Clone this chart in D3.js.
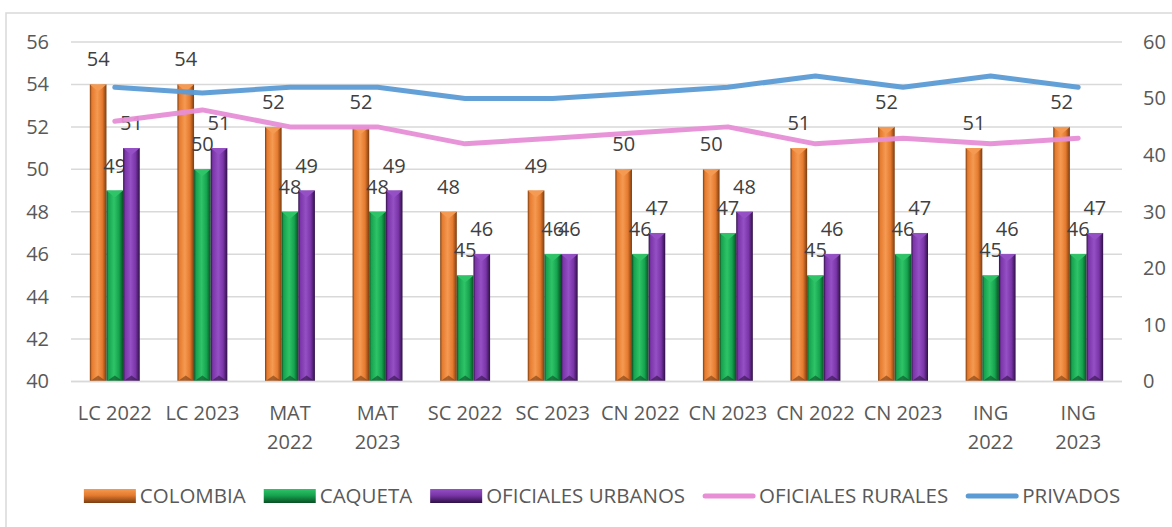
<!DOCTYPE html>
<html>
<head>
<meta charset="utf-8">
<script src="https://cdn.jsdelivr.net/npm/d3@7"></script>
<style>
  body { margin: 0; background: #fff; }
  text { font-family: "Open Sans", "Noto Sans", sans-serif; }
</style>
</head>
<body>
<svg id="chart"></svg>
<script>
// data
var categories = ["LC 2022", "LC 2023", "MAT 2022", "MAT 2023", "SC 2022", "SC 2023",
                  "CN 2022", "CN 2023", "CN 2022", "CN 2023", "ING 2022", "ING 2023"]
var colombia   = [54, 54, 52, 52, 48, 49, 50, 50, 51, 52, 51, 52]
var caqueta    = [49, 50, 48, 48, 45, 46, 46, 47, 45, 46, 45, 46]
var urbanos    = [51, 51, 49, 49, 46, 46, 47, 48, 46, 47, 46, 47]
var rurales    = [46, 48, 45, 45, 42, 43, 44, 45, 42, 43, 42, 43]
var privados   = [52, 51, 52, 52, 50, 50, 51, 52, 54, 52, 54, 52]
var leftTicks  = [40, 42, 44, 46, 48, 50, 52, 54, 56]
var rightTicks = [0, 10, 20, 30, 40, 50, 60]

var barSeries = [
    { name: "COLOMBIA", values: colombia, base: "#e57a2e", dark: "#7a3c10", light: "#f59a52" },
    { name: "CAQUETA", values: caqueta, base: "#16a34f", dark: "#0a4f24", light: "#2fc468" },
    { name: "OFICIALES URBANOS", values: urbanos, base: "#7a35a8", dark: "#2e1045", light: "#9450c4" }
]
var lineSeries = [
    { name: "OFICIALES RURALES", values: rurales, color: "#e78ed6" },
    { name: "PRIVADOS", values: privados, color: "#5b9bd5" }
]

var dimensions = {
    width: 1172,
    height: 527,
    margin: { top: 42, bottom: 146, right: 50, left: 71 }
}

var svg = d3.select("#chart")
    .attr("width", dimensions.width)
    .attr("height", dimensions.height)

// chart border
svg.append("rect")
    .attr("x", 6).attr("y", 13)
    .attr("width", dimensions.width + 10).attr("height", dimensions.height + 10)
    .attr("fill", "none")
    .attr("stroke", "#d9d9d9")
    .attr("stroke-width", 1.5)

var plotRight = dimensions.width - dimensions.margin.right
var plotBottom = 381.5

var xScale = d3.scaleBand()
    .domain(d3.range(categories.length))
    .range([dimensions.margin.left, plotRight])
    .paddingInner(0)

var yLeft = d3.scaleLinear().domain([40, 56]).range([plotBottom, dimensions.margin.top])
var yRight = d3.scaleLinear().domain([0, 60]).range([plotBottom, dimensions.margin.top])

var barWidth = xScale.bandwidth() * 0.19

// gridlines
svg.append("g")
    .selectAll("line")
    .data(leftTicks)
    .enter()
    .append("line")
    .attr("x1", dimensions.margin.left)
    .attr("x2", plotRight)
    .attr("y1", d => yLeft(d))
    .attr("y2", d => yLeft(d))
    .attr("stroke", "#d9d9d9")
    .attr("stroke-width", 1.5)

// left axis
var yAxisLeft = svg.append("g")
    .attr("transform", `translate(${dimensions.margin.left - 22},0)`)
    .call(d3.axisLeft(yLeft).tickValues(leftTicks).tickSize(0).tickPadding(0))
yAxisLeft.select(".domain").remove()
yAxisLeft.selectAll("text")
    .attr("font-size", 20)
    .attr("fill", "#595959")
    .style("font-family", "'Open Sans', sans-serif")

// right axis
var yAxisRight = svg.append("g")
    .attr("transform", `translate(${plotRight + 21},0)`)
    .call(d3.axisRight(yRight).tickValues(rightTicks).tickSize(0).tickPadding(0))
yAxisRight.select(".domain").remove()
yAxisRight.selectAll("text")
    .attr("font-size", 20)
    .attr("fill", "#595959")
    .style("font-family", "'Open Sans', sans-serif")

// gradients for the bevelled bars
var defs = svg.append("defs")
barSeries.forEach(function (s, i) {
    var g = defs.append("linearGradient").attr("id", "bar" + i)
        .attr("x1", "0").attr("x2", "1").attr("y1", "0").attr("y2", "0")
    g.append("stop").attr("offset", "0%").attr("stop-color", s.dark)
    g.append("stop").attr("offset", "12%").attr("stop-color", s.base)
    g.append("stop").attr("offset", "45%").attr("stop-color", s.light)
    g.append("stop").attr("offset", "75%").attr("stop-color", s.base)
    g.append("stop").attr("offset", "100%").attr("stop-color", s.dark)
    var v = defs.append("linearGradient").attr("id", "leg" + i)
        .attr("x1", "0").attr("x2", "0").attr("y1", "0").attr("y2", "1")
    v.append("stop").attr("offset", "0%").attr("stop-color", s.light)
    v.append("stop").attr("offset", "45%").attr("stop-color", s.base)
    v.append("stop").attr("offset", "100%").attr("stop-color", s.dark)
})

var groupOffset = (xScale.bandwidth() - barWidth * 3) / 2

barSeries.forEach(function (s, si) {
    var g = svg.append("g")
    var bx = i => xScale(i) + groupOffset + si * barWidth

    g.selectAll("rect")
        .data(s.values)
        .enter()
        .append("rect")
        .attr("x", (d, i) => bx(i))
        .attr("y", d => yLeft(d))
        .attr("width", barWidth)
        .attr("height", d => plotBottom - yLeft(d))
        .attr("fill", "url(#bar" + si + ")")

    // top bevel
    g.selectAll("path.cap")
        .data(s.values)
        .enter()
        .append("path")
        .attr("class", "cap")
        .attr("d", function (d, i) {
            var x0 = bx(i), y0 = yLeft(d)
            return `M${x0},${y0}L${x0 + barWidth},${y0}L${x0 + barWidth / 2},${y0 + 7}Z`
        })
        .attr("fill", s.light)

    // bottom bevel
    g.selectAll("path.foot")
        .data(s.values)
        .enter()
        .append("path")
        .attr("class", "foot")
        .attr("d", function (d, i) {
            var x0 = bx(i)
            return `M${x0},${plotBottom}L${x0 + barWidth},${plotBottom}L${x0 + barWidth / 2},${plotBottom - 6}Z`
        })
        .attr("fill", s.dark)
        .attr("opacity", 0.6)

    g.selectAll("text")
        .data(s.values)
        .enter()
        .append("text")
        .attr("x", (d, i) => bx(i) + barWidth / 2)
        .attr("y", d => yLeft(d) - 18)
        .attr("text-anchor", "middle")
        .attr("font-size", 20)
        .attr("fill", "#404040")
        .text(d => d)
})

// x axis line
svg.append("line")
    .attr("x1", dimensions.margin.left)
    .attr("x2", plotRight)
    .attr("y1", plotBottom)
    .attr("y2", plotBottom)
    .attr("stroke", "#d9d9d9")
    .attr("stroke-width", 1.5)

// lines on the right axis
var lineGen = d3.line()
    .x((d, i) => xScale(i) + xScale.bandwidth() / 2)
    .y(d => yRight(d))

lineSeries.forEach(function (s) {
    svg.append("path")
        .datum(s.values)
        .attr("d", lineGen)
        .attr("fill", "none")
        .attr("stroke", s.color)
        .attr("stroke-width", 5)
        .attr("stroke-linejoin", "round")
        .attr("stroke-linecap", "round")
        .attr("opacity", 0.95)
})

// x labels, wrapped when too wide for the band
var xLabels = svg.append("g")
categories.forEach(function (c, i) {
    var t = xLabels.append("text")
        .attr("x", xScale(i) + xScale.bandwidth() / 2)
        .attr("y", 420)
        .attr("text-anchor", "middle")
        .attr("font-size", 20)
        .attr("fill", "#595959")
        .text(c)
    if (t.node().getComputedTextLength() > xScale.bandwidth() - 6) {
        var words = c.split(" ")
        t.text(null)
        words.forEach(function (w, k) {
            t.append("tspan")
                .attr("x", xScale(i) + xScale.bandwidth() / 2)
                .attr("dy", k == 0 ? 0 : 29)
                .text(w)
        })
    }
})

// legend
var legend = svg.append("g")
var items = barSeries.map((s, i) => ({ name: s.name, type: "bar", idx: i }))
    .concat(lineSeries.map(s => ({ name: s.name, type: "line", color: s.color })))
var lx = 0
var legendY = 496
items.forEach(function (it) {
    var g = legend.append("g").attr("transform", `translate(${lx},0)`)
    if (it.type == "bar") {
        g.append("rect")
            .attr("x", 0).attr("y", legendY - 7)
            .attr("width", 52).attr("height", 14)
            .attr("fill", "url(#leg" + it.idx + ")")
    } else {
        g.append("line")
            .attr("x1", 2).attr("x2", 50)
            .attr("y1", legendY).attr("y2", legendY)
            .attr("stroke", it.color)
            .attr("stroke-width", 5)
            .attr("stroke-linecap", "round")
    }
    var t = g.append("text")
        .attr("x", 56)
        .attr("y", legendY + 7)
        .attr("font-size", 20.5)
        .attr("fill", "#595959")
        .text(it.name)
    lx += 56 + t.node().getComputedTextLength() + 18
})
var legendWidth = lx - 18
legend.attr("transform", `translate(${602 - legendWidth / 2},0)`)
</script>
</body>
</html>
